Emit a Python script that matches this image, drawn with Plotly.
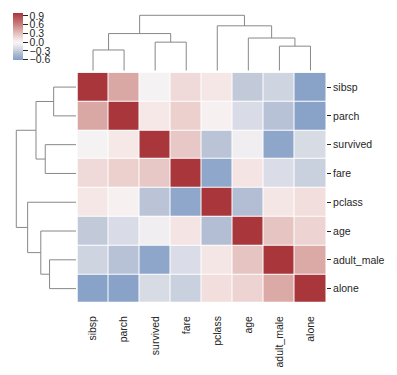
import numpy as np
import plotly.graph_objects as go

# ---- data (clustered order, as displayed) ----
variables = ["sibsp", "parch", "survived", "fare", "pclass", "age", "adult_male", "alone"]
corr = [
    [1.000, 0.415, -0.035, 0.160, 0.083, -0.308, -0.254, -0.584],
    [0.415, 1.000, 0.082, 0.216, 0.018, -0.189, -0.350, -0.583],
    [-0.035, 0.082, 1.000, 0.257, -0.338, -0.077, -0.557, -0.203],
    [0.160, 0.216, 0.257, 1.000, -0.549, 0.096, -0.182, -0.274],
    [0.083, 0.018, -0.338, -0.549, 1.000, -0.369, 0.094, 0.135],
    [-0.308, -0.189, -0.077, 0.096, -0.369, 1.000, 0.280, 0.198],
    [-0.254, -0.350, -0.557, -0.182, 0.094, 0.280, 1.000, 0.404],
    [-0.584, -0.583, -0.203, -0.274, 0.135, 0.198, 0.404, 1.000],
]
# dendrogram merges: (left node, right node, height); leaves 0..7, clusters 8..
merge_left = [0, 6, 2, 5, 8, 4, 12]
merge_right = [1, 7, 3, 9, 10, 11, 13]
merge_height = [0.853, 1.010, 1.175, 1.345, 1.528, 1.847, 2.280]
cbar_vals = [-0.6, -0.3, 0.0, 0.3, 0.6, 0.9]
cbar_text = ["\u22120.6", "\u22120.3", "0.0", "0.3", "0.6", "0.9"]

# ---- style ----
OFF = 8  # page body margin
W, H = 397 - OFF, 375 - OFF
FONT = "Liberation Sans, Arial, sans-serif"
TXT = "#262626"
zmin, zmax = -0.61, 1.0

# approximate seaborn 'vlag' (t in [0,1], centred at 0.5 -> value 0)
vt = [0.0, 0.208, 0.3155, 0.373, 0.409, 0.46, 0.5, 0.54, 0.58, 0.608, 0.64, 0.7075, 0.8, 0.9, 1.0]
vr = [35, 136, 179, 207, 218, 240, 247, 245, 241, 235, 229, 218, 203, 186, 169]
vg = [105, 162, 190, 213, 221, 238, 244, 232, 218, 208, 196, 168, 130, 92, 54]
vb = [189, 200, 212, 224, 230, 242, 244, 231, 217, 205, 194, 164, 128, 94, 59]
colorscale = []
for p in np.linspace(0, 1, 41):
    v = zmin + p * (zmax - zmin)
    t = (v + 1) / 2
    r, g, b = (int(round(np.interp(t, vt, c))) for c in (vr, vg, vb))
    colorscale.append([float(p), f"rgb({r},{g},{b})"])

def px_x(x):
    return (x - OFF) / W

def px_y(y):
    return 1 - (y - OFF) / H

hx0, hx1 = 77.5, 326.0
hy0, hy1 = 72.7, 303.0

fig = go.Figure()
n = len(variables)
fig.add_trace(go.Heatmap(
    z=corr, x=list(range(n)), y=list(range(n)),
    colorscale=colorscale, zmin=zmin, zmax=zmax, xgap=1, ygap=1,
    xaxis="x", yaxis="y",
    colorbar=dict(
        x=px_x(12.7), xanchor="left", y=px_y(36.5), yanchor="middle",
        len=47, lenmode="pixels", thickness=9.5, thicknessmode="pixels",
        xpad=0, ypad=0, outlinewidth=0,
        tickvals=cbar_vals, ticktext=cbar_text, ticks="outside", ticklen=5,
        tickwidth=1, tickcolor=TXT, tickfont=dict(family=FONT, size=10.5, color=TXT),
    ),
))

# dendrogram segments
pos = {i: float(i) for i in range(n)}
hgt = {i: 0.0 for i in range(n)}
seg_leaf, seg_h = [], []
for k, (a, b, h) in enumerate(zip(merge_left, merge_right, merge_height)):
    node = n + k
    seg_leaf += [pos[a], pos[a], pos[b], pos[b], None]
    seg_h += [hgt[a], h, h, hgt[b], None]
    pos[node] = (pos[a] + pos[b]) / 2
    hgt[node] = h

line = dict(color="#888888", width=1)
fig.add_trace(go.Scatter(x=seg_leaf, y=seg_h, mode="lines", line=line,
                         xaxis="x2", yaxis="y2", hoverinfo="skip", showlegend=False))
fig.add_trace(go.Scatter(x=seg_h, y=seg_leaf, mode="lines", line=line,
                         xaxis="x3", yaxis="y3", hoverinfo="skip", showlegend=False))

top = max(merge_height) * 1.05
hid = dict(visible=False, showgrid=False, zeroline=False, automargin=False)
fig.update_layout(
    width=W, height=H, margin=dict(l=0, r=0, t=0, b=0, autoexpand=False),
    paper_bgcolor="white", plot_bgcolor="white", showlegend=False,
    font=dict(family=FONT, size=10.5, color=TXT),
    xaxis=dict(domain=[px_x(hx0), px_x(hx1)], range=[-0.5, n - 0.5],
               tickvals=list(range(n)), ticktext=variables, tickangle=-90,
               ticks="", ticklabelstandoff=10, showgrid=False, zeroline=False,
               showline=False, anchor="y", automargin=False,
               tickfont=dict(size=10.5, color=TXT)),
    yaxis=dict(domain=[px_y(hy1), px_y(hy0)], range=[n - 0.5, -0.5],
               tickvals=list(range(n)), ticktext=variables, side="right",
               ticks="outside", ticklen=4, tickwidth=1, tickcolor=TXT,
               showgrid=False, zeroline=False, showline=False, anchor="x",
               automargin=False, tickfont=dict(size=10.5, color=TXT)),
    xaxis2=dict(domain=[px_x(hx0), px_x(hx1)], range=[-0.5, n - 0.5], anchor="y2", **hid),
    yaxis2=dict(domain=[px_y(70.7), px_y(70.7 - 55.4 * 1.05)], range=[0, top], anchor="x2", **hid),
    xaxis3=dict(domain=[px_x(76 - 59.7 * 1.05), px_x(76)], range=[top, 0], anchor="y3", **hid),
    yaxis3=dict(domain=[px_y(hy1), px_y(hy0)], range=[n - 0.5, -0.5], anchor="x3", **hid),
)

fig.write_html("out.html")
